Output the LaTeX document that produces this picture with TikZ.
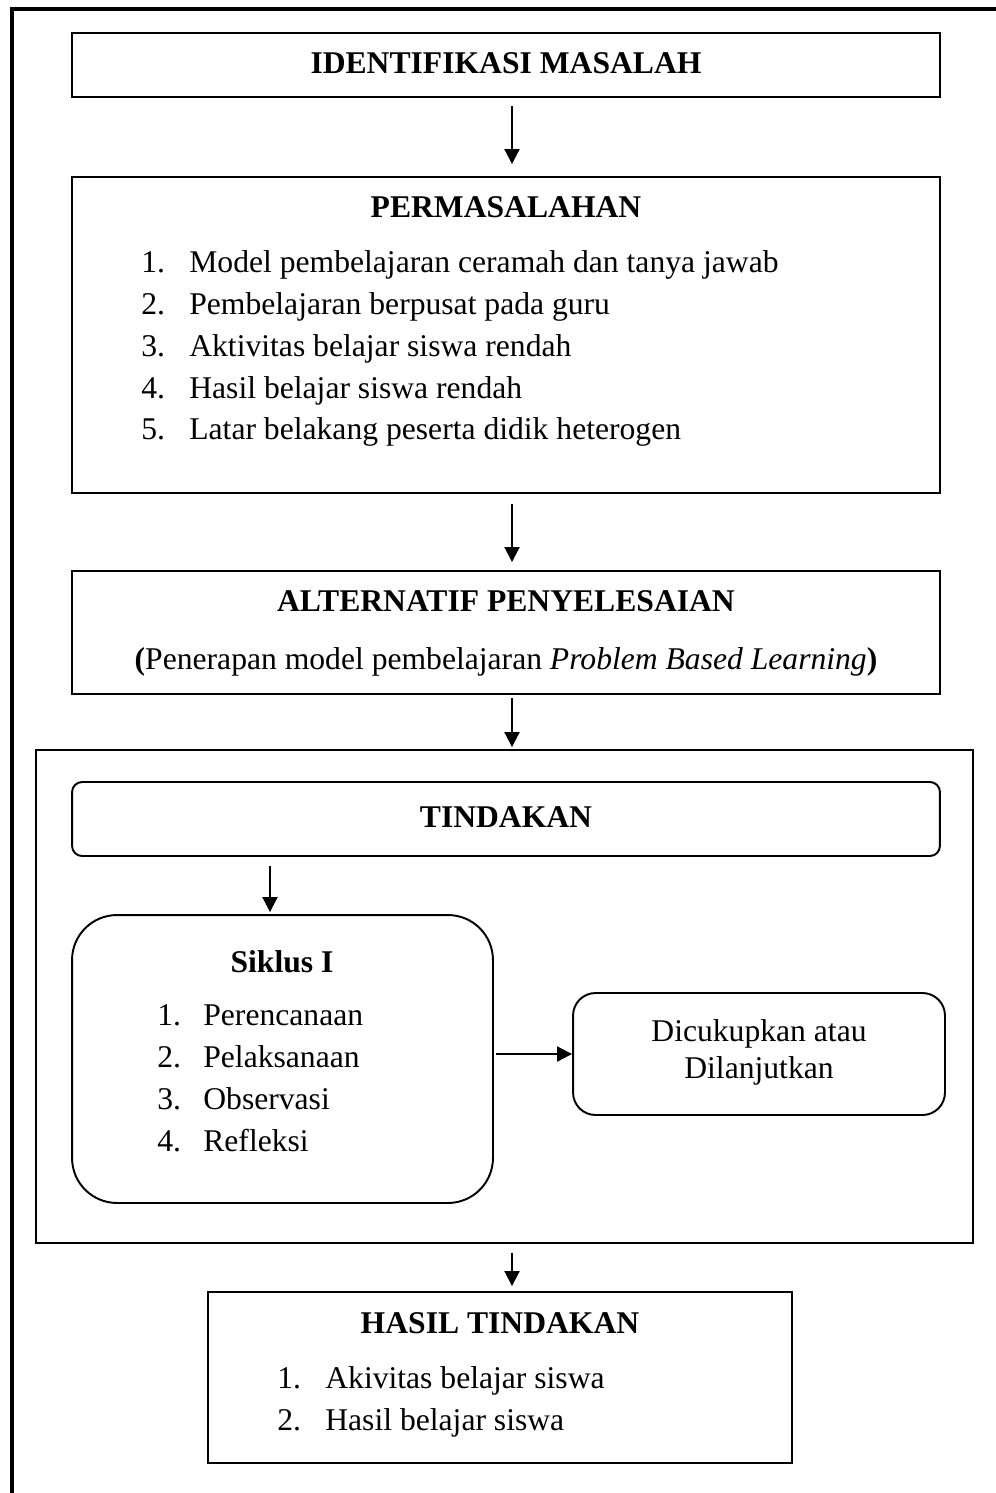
\documentclass[tikz,border=0pt]{standalone}
\usepackage{fontspec}
\setmainfont{Liberation Serif}
\usetikzlibrary{arrows.meta,positioning}
\tikzset{
  box/.style={draw=black,line width=1.1pt,minimum width=17.36cm,inner sep=0pt},
  rbox/.style={box,rounded corners=0.2cm},
  ttl/.style={anchor=base,font=\fontsize{18}{24}\selectfont\bfseries,inner sep=0pt},
  txt/.style={anchor=base,font=\fontsize{18}{24}\selectfont,inner sep=0pt},
  num/.style={anchor=base west,font=\fontsize{18}{24}\selectfont,inner sep=0pt},
  ar/.style={-{Triangle[length=0.3cm,width=0.3cm]},line width=1.1pt},
}

\begin{document}
\begin{tikzpicture}[x=0.02cm,y=-0.02cm]
  \useasboundingbox (0,0) rectangle (996,1493);
  \draw[line width=2.3pt] (12,1493) -- (12,9) -- (996,9);

  % boxes
  \node[box,minimum height=1.28cm] (idm) at (506,65) {};
  \node[box,minimum height=6.32cm] (perm) at (506,335) {};
  \node[box,minimum height=2.46cm] (alt) at (506,632.5) {};
  \node[box,minimum width=18.74cm,minimum height=9.86cm] (tind) at (504.5,996.5) {};
  \node[rbox,minimum height=1.48cm] (tindh) at (506,819) {};
  \node[box,rounded corners=0.9cm,minimum width=8.42cm,minimum height=5.76cm] (sik) at (282.5,1059) {};
  \node[box,rounded corners=0.45cm,minimum width=7.44cm,minimum height=2.44cm] (lanjut) at (759,1054) {};
  \node[box,minimum width=11.68cm,minimum height=3.42cm] (hasil) at (500,1377.5) {};

  % texts
  \node[ttl] (idmt) at (506,74) {IDENTIFIKASI MASALAH};
  \node[ttl] (permt) at (506,218) {PERMASALAHAN};
  \foreach \i/\t in {1/Model pembelajaran ceramah dan tanya jawab, 2/Pembelajaran berpusat pada guru, 3/Aktivitas belajar siswa rendah, 4/Hasil belajar siswa rendah, 5/Latar belakang peserta didik heterogen} {
     \node[num] (permn\i) at (141,{273+41.7*(\i-1)}) {\i.};
     \node[num] (perm\i) at (189,{273+41.7*(\i-1)}) {\t};
  }
  \node[ttl] (altt) at (506,611) {ALTERNATIF PENYELESAIAN};
  \node[txt] (alts) at (506,669) {\textbf{(}Penerapan model pembelajaran \textit{Problem Based Learning}\textbf{)}};
  \node[ttl] (tindt) at (506,827) {TINDAKAN};
  \node[ttl] (sikt) at (282,972) {Siklus I};
  \foreach \i/\t in {1/Perencanaan, 2/Pelaksanaan, 3/Observasi, 4/Refleksi} {
     \node[num] (sikn\i) at (157,{1025+42*(\i-1)}) {\i.};
     \node[num] (sik\i) at (203,{1025+42*(\i-1)}) {\t};
  }
  \node[txt] (lanjutt1) at (759,1041) {Dicukupkan atau};
  \node[txt] (lanjutt2) at (759,1078) {Dilanjutkan};
  \node[ttl] (hasilt) at (500,1333) {HASIL TINDAKAN};
  \foreach \i/\t in {1/Akivitas belajar siswa, 2/Hasil belajar siswa} {
     \node[num] (hasiln\i) at (277,{1388+42*(\i-1)}) {\i.};
     \node[num] (hasil\i) at (325,{1388+42*(\i-1)}) {\t};
  }

  % arrows
  \coordinate (ax) at (512,0);
  \coordinate (bx) at (270,0);
  \draw[ar,shorten <=0.16cm,shorten >=0.24cm] (idm.south -| ax) -- (perm.north -| ax);
  \draw[ar,shorten <=0.2cm,shorten >=0.16cm] (perm.south -| ax) -- (alt.north -| ax);
  \draw[ar,shorten <=0.06cm,shorten >=0.04cm] (alt.south -| ax) -- (tind.north -| ax);
  \draw[ar,shorten <=0.18cm,shorten >=0.04cm] (tindh.south -| bx) -- (sik.north -| bx);
  \draw[ar,shorten <=0.04cm] (sik.east |- lanjut.west) -- (lanjut.west);
  \draw[ar,shorten <=0.18cm,shorten >=0.1cm] (tind.south -| ax) -- (hasil.north -| ax);
\end{tikzpicture}
\end{document}
